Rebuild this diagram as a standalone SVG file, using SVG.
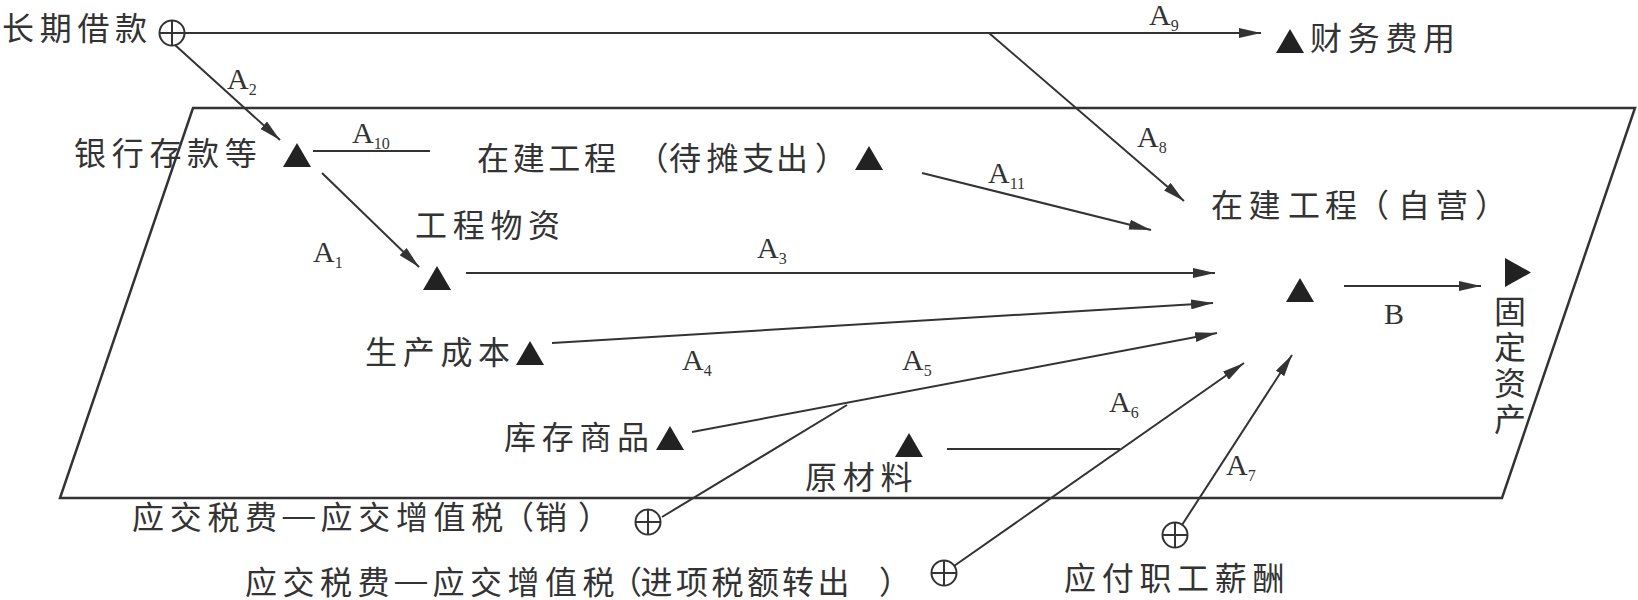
<svg xmlns="http://www.w3.org/2000/svg" xmlns:xlink="http://www.w3.org/1999/xlink" width="1638" height="600" viewBox="0 0 1638 600">
<style>
.cn{font-family:"Noto Sans CJK SC","Noto Sans",sans-serif;font-size:32px;letter-spacing:5.7px;fill:#333}
.fx{letter-spacing:0}
.dash{font-family:"Liberation Sans",sans-serif}
.lb{font-family:"Liberation Serif",serif;font-size:30px;fill:#333}
.sub{font-size:16px}
.ln{stroke:#333;stroke-width:2;fill:none}
.frame{stroke:#333;stroke-width:2.5;fill:none}
.tri{fill:#222}
.ox{stroke:#333;stroke-width:2;fill:none}
</style>
<defs>
<marker id="arr" markerWidth="22" markerHeight="10" refX="22" refY="5" orient="auto" markerUnits="userSpaceOnUse">
<path d="M0,0 L22,5 L0,10 Z" fill="#333"/>
</marker>
<path id="up" d="M-14,0 L0,-24 L14,0 Z"/>
<g id="plus"><circle r="12.5"/><path d="M-12.5,0 H12.5 M0,-12.5 V12.5"/></g>
</defs>
<rect width="1638" height="600" fill="#fff"/>
<polygon class="frame" points="193,108 1635,108 1502,498 60,498"/>
<g id="connectors">
<line class="ln" x1="184" y1="33" x2="1261" y2="33" marker-end="url(#arr)"/>
<line class="ln" x1="175" y1="45" x2="280" y2="140" marker-end="url(#arr)"/>
<line class="ln" x1="989" y1="33" x2="1184" y2="201" marker-end="url(#arr)"/>
<line class="ln" x1="313" y1="151" x2="430" y2="151"/>
<line class="ln" x1="922" y1="173" x2="1151" y2="230" marker-end="url(#arr)"/>
<line class="ln" x1="322" y1="173" x2="419" y2="267" marker-end="url(#arr)"/>
<line class="ln" x1="466" y1="273" x2="1215" y2="273" marker-end="url(#arr)"/>
<line class="ln" x1="552" y1="343" x2="1213" y2="303" marker-end="url(#arr)"/>
<line class="ln" x1="692" y1="432" x2="1217" y2="333" marker-end="url(#arr)"/>
<line class="ln" x1="662" y1="517" x2="847" y2="405"/>
<line class="ln" x1="954" y1="566" x2="1244" y2="363" marker-end="url(#arr)"/>
<line class="ln" x1="947" y1="449" x2="1120" y2="449"/>
<line class="ln" x1="1182" y1="525" x2="1292" y2="355" marker-end="url(#arr)"/>
<line class="ln" x1="1344" y1="286" x2="1481" y2="286" marker-end="url(#arr)"/>
<text class="lb" x="1149" y="25">A<tspan class="sub" dy="6">9</tspan></text>
<text class="lb" x="227" y="89">A<tspan class="sub" dy="6">2</tspan></text>
<text class="lb" x="352" y="143">A<tspan class="sub" dy="6">10</tspan></text>
<text class="lb" x="1137" y="147">A<tspan class="sub" dy="6">8</tspan></text>
<text class="lb" x="988" y="183">A<tspan class="sub" dy="6">11</tspan></text>
<text class="lb" x="313" y="262">A<tspan class="sub" dy="6">1</tspan></text>
<text class="lb" x="757" y="258">A<tspan class="sub" dy="6">3</tspan></text>
<text class="lb" x="682" y="370">A<tspan class="sub" dy="6">4</tspan></text>
<text class="lb" x="902" y="370">A<tspan class="sub" dy="6">5</tspan></text>
<text class="lb" x="1109" y="412">A<tspan class="sub" dy="6">6</tspan></text>
<text class="lb" x="1226" y="475">A<tspan class="sub" dy="6">7</tspan></text>
<text class="lb" x="1384" y="324">B</text>
</g>
<g id="n-changqijiekuan">
<text class="cn" x="2" y="40">长期借款</text>
<use xlink:href="#plus" class="ox" x="172" y="33"/>
</g>
<g id="n-caiwufeiyong">
<use xlink:href="#up" class="tri" x="1290" y="53"/>
<text class="cn" x="1310" y="50">财务费用</text>
</g>
<g id="n-yinhang">
<text class="cn" x="74" y="165">银行存款等</text>
<use xlink:href="#up" class="tri" x="297" y="167"/>
</g>
<g id="n-daitan">
<text class="cn fx" x="477 512.7 548.3 584 636.5 669 706.5 742 776 815" y="170">在建工程（待摊支出）</text>
<use xlink:href="#up" class="tri" x="869" y="170"/>
</g>
<g id="n-ziying">
<text class="cn fx" x="1211 1248.5 1288 1325 1357 1398 1436 1475" y="217">在建工程（自营）</text>
<use xlink:href="#up" class="tri" x="1300" y="302"/>
</g>
<g id="n-gongchengwuzi">
<text class="cn" x="415" y="237">工程物资</text>
<use xlink:href="#up" class="tri" x="437" y="290"/>
</g>
<g id="n-shengchanchengben">
<text class="cn" x="365" y="364">生产成本</text>
<use xlink:href="#up" class="tri" x="530" y="365"/>
</g>
<g id="n-kucunshangpin">
<text class="cn" x="504" y="449">库存商品</text>
<use xlink:href="#up" class="tri" x="670" y="450"/>
</g>
<g id="n-yuancailiao">
<use xlink:href="#up" class="tri" x="909" y="457"/>
<text class="cn" x="805" y="489">原材料</text>
</g>
<g id="n-xiao">
<text class="cn fx"><tspan x="132 169.7 207.4 245.1" y="529">应交税费</tspan><tspan class="dash" x="282.8" y="526">—</tspan><tspan x="320.5 358.2 395.9 433.6 471.3 502 535 578" y="529">应交增值税（销）</tspan></text>
<use xlink:href="#plus" class="ox" x="648" y="522"/>
</g>
<g id="n-jinxiang">
<text class="cn fx"><tspan x="245 282.5 320 357.5" y="594">应交税费</tspan><tspan class="dash" x="395" y="591">—</tspan><tspan x="432.5 470 507.5 545 582.5 610 640.5 676 711.5 747 782 817.5 879" y="594">应交增值税（进项税额转出）</tspan></text>
<use xlink:href="#plus" class="ox" x="944" y="573"/>
</g>
<g id="n-xinchou">
<use xlink:href="#plus" class="ox" x="1175" y="535"/>
<text class="cn" x="1064" y="590">应付职工薪酬</text>
</g>
<g id="n-gudingzichan">
<polygon class="tri" points="1505,258 1505,287 1531,272.5"/>
<text class="cn" x="1510" y="295" writing-mode="vertical-rl" style="letter-spacing:4px">固定资产</text>
</g>
</svg>
